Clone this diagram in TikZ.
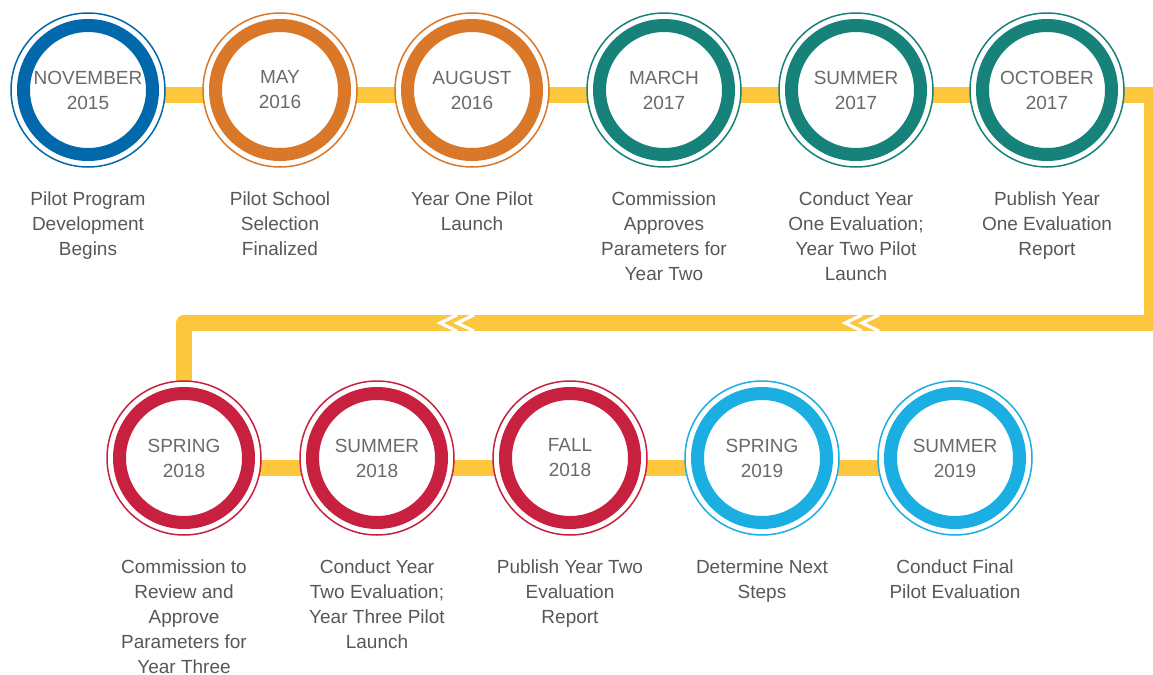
\documentclass[tikz,border=0pt]{standalone}
\usepackage{fontspec}
\setmainfont{Liberation Sans}
\usetikzlibrary{positioning,backgrounds}

\definecolor{blue15}{HTML}{0068AB}
\definecolor{orange16}{HTML}{D97828}
\definecolor{teal17}{HTML}{17827A}
\definecolor{red18}{HTML}{C8203F}
\definecolor{sky19}{HTML}{1AAEE3}
\definecolor{baryellow}{HTML}{FCC63D}
\definecolor{monthgray}{HTML}{6A6A6A}
\definecolor{textgray}{HTML}{575757}

\def \rout {77}
\def \dtop {2.25pt}
\def \dbot {4.75pt}

\tikzset{
  stage/.style={circle, draw=#1, line width=6.5pt, fill=white, minimum size=64.5pt,
    inner sep=0pt, align=center, text=monthgray, font=\fontsize{9.5}{12.5}\selectfont},
  ring/.style={draw=#1, line width=0.75pt, fill=white},
  bar/.style={draw=baryellow, line width=8pt, line join=round},
  chevron/.style={draw=white, line width=1.6pt},
  what/.style={below=15pt of #1, inner sep=0pt, align=center, text=textgray,
    font=\fontsize{9.5}{12.5}\selectfont}
}

\begin{document}
\begin{tikzpicture}[x=0.5pt, y=-0.5pt]
      \useasboundingbox (0,0) rectangle (1153,675);
      %first row
      \node[stage=blue15] (n1) at (88,90) {NOVEMBER\\2015};
      \node[stage=orange16] (n2) at (280,90) {MAY\\2016};
      \node[stage=orange16] (n3) at (472,90) {AUGUST\\2016};
      \node[stage=teal17] (n4) at (664,90) {MARCH\\2017};
      \node[stage=teal17] (n5) at (856,90) {SUMMER\\2017};
      \node[stage=teal17] (n6) at (1047,90) {OCTOBER\\2017};
      %second row
      \node[stage=red18] (m1) at (184,458) {SPRING\\2018};
      \node[stage=red18] (m2) at (377,458) {SUMMER\\2018};
      \node[stage=red18] (m3) at (570,458) {FALL\\2018};
      \node[stage=sky19] (m4) at (762,458) {SPRING\\2019};
      \node[stage=sky19] (m5) at (955,458) {SUMMER\\2019};
      %texts
      \node[what=n1] (d1) {Pilot Program\\Development\\Begins};
      \node[what=n2] (d2) {Pilot School\\Selection\\Finalized};
      \node[what=n3] (d3) {Year One Pilot\\Launch};
      \node[what=n4] (d4) {Commission\\Approves\\Parameters for\\Year Two};
      \node[what=n5] (d5) {Conduct Year\\One Evaluation;\\Year Two Pilot\\Launch};
      \node[what=n6] (d6) {Publish Year\\One Evaluation\\Report};
      \node[what=m1] (e1) {Commission to\\Review and\\Approve\\Parameters for\\Year Three};
      \node[what=m2] (e2) {Conduct Year\\Two Evaluation;\\Year Three Pilot\\Launch};
      \node[what=m3] (e3) {Publish Year Two\\Evaluation\\Report};
      \node[what=m4] (e4) {Determine Next\\Steps};
      \node[what=m5] (e5) {Conduct Final\\Pilot Evaluation};
      %turn points
      \coordinate (c1) at (1152,94.5);
      \coordinate (c2) at (1152,323);
      \coordinate (c3) at (184,323);
      \begin{scope}[on background layer]
        %bars
        \foreach \a/\b in {n1/n2,n2/n3,n3/n4,n4/n5,n5/n6}
          \draw[bar] ([yshift=-\dtop]\a.center) -- ([yshift=-\dtop]\b.center);
        \foreach \a/\b in {m1/m2,m2/m3,m3/m4,m4/m5}
          \draw[bar] ([yshift=-\dbot]\a.center) -- ([yshift=-\dbot]\b.center);
        \draw[bar] ([yshift=-\dtop]n6.center) -- (c1) -- (c2) -- (c3) -- (m1.center);
        %chevrons
        \foreach \cx in {440,845} {
          \draw[chevron] (\cx+17,315) -- (\cx,323) -- (\cx+17,331);
          \draw[chevron] (\cx+34,315) -- (\cx+17,323) -- (\cx+34,331);
        }
        %outer rings
        \foreach \n/\c in {n1/blue15,n2/orange16,n3/orange16,n4/teal17,n5/teal17,n6/teal17,
                           m1/red18,m2/red18,m3/red18,m4/sky19,m5/sky19}
          \draw[ring=\c] (\n.center) circle (\rout);
      \end{scope}
    \end{tikzpicture}
\end{document}
